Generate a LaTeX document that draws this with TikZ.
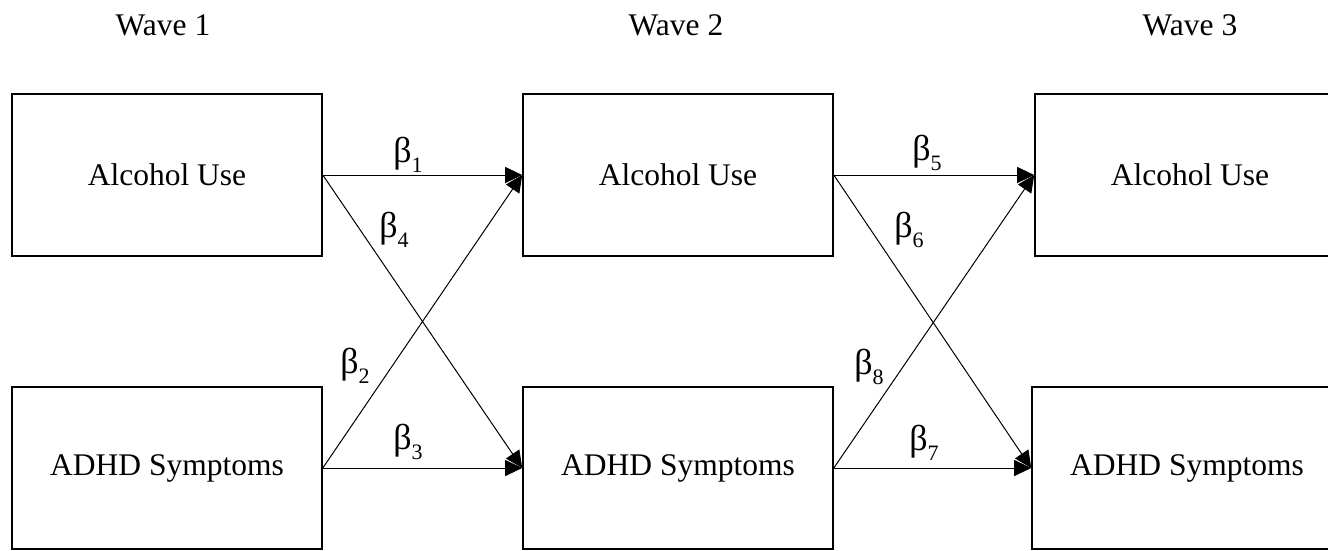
\documentclass[tikz,border=0pt]{standalone}
\usepackage{fontspec}
\setmainfont{Liberation Serif}
\usetikzlibrary{arrows.meta}
\newcommand{\coef}[1]{{\fontsize{36}{36}\selectfont β}\raisebox{-0.3em}{\fontsize{22}{22}\selectfont #1}}
\begin{document}
\begin{tikzpicture}[x=1pt,y=-1pt,
  font=\fontsize{31.5}{36}\selectfont,
  varbox/.style={draw, line width=1.6pt, minimum width=310pt, minimum height=162pt, inner sep=0pt},
  path/.style={line width=1pt, -{Triangle[length=17pt,width=16pt]}},
  coeflabel/.style={inner sep=0pt}]
\useasboundingbox (0,0) rectangle (1328,550);
\clip (0,0) rectangle (1328,550);
% wave headings
\node (w1) at (163,25) {Wave 1};
\node (w2) at (676,25) {Wave 2};
\node (w3) at (1190,25) {Wave 3};
% construct boxes
\node[varbox] (a1) at (167,175) {Alcohol Use};
\node[varbox] (d1) at (167,468) {ADHD Symptoms};
\node[varbox] (a2) at (678,175) {Alcohol Use};
\node[varbox] (d2) at (678,468) {ADHD Symptoms};
\node[varbox] (a3) at (1190,175) {Alcohol Use};
\node[varbox] (d3) at (1187,468) {ADHD Symptoms};
% cross-lagged paths, wave 1 to wave 2
\draw[path] (a1.east) -- (a2.west);
\draw[path] (a1.east) -- (d2.west);
\draw[path] (d1.east) -- (a2.west);
\draw[path] (d1.east) -- (d2.west);
% cross-lagged paths, wave 2 to wave 3
\draw[path] (a2.east) -- (a3.west);
\draw[path] (a2.east) -- (d3.west);
\draw[path] (d2.east) -- (a3.west);
\draw[path] (d2.east) -- (d3.west);
% path coefficients
\node[coeflabel] (b1) at (408,155) {\coef{1}};
\node[coeflabel] (b4) at (394,230) {\coef{4}};
\node[coeflabel] (b2) at (355,366) {\coef{2}};
\node[coeflabel] (b3) at (408,442) {\coef{3}};
\node[coeflabel] (b5) at (927,153) {\coef{5}};
\node[coeflabel] (b6) at (909,230) {\coef{6}};
\node[coeflabel] (b8) at (869,367) {\coef{8}};
\node[coeflabel] (b7) at (924,443) {\coef{7}};
\end{tikzpicture}
\end{document}
